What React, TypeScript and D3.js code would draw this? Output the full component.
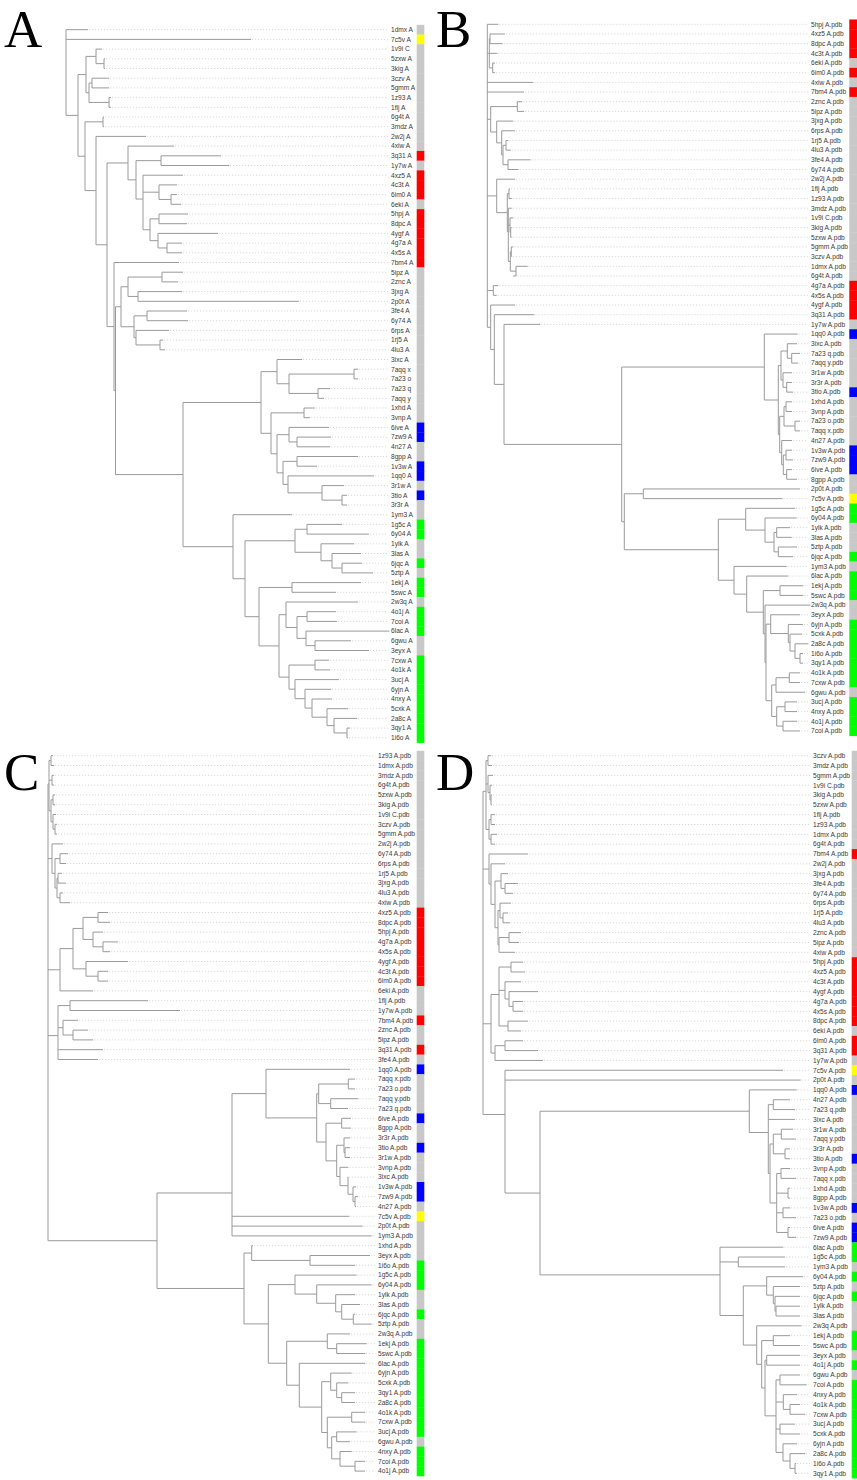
import { useEffect, useRef } from "react";
import * as d3 from "d3";

// colour groups of the strip beside the labels (by PDB id)
const redIds = ["3q31", "4xz5", "4c3t", "6im0", "5hpj", "8dpc", "4ygf", "4g7a", "4x5s", "7bm4"];
const blueIds = ["6ive", "7zw9", "1v3w", "1qq0", "3tio"];
const greenIds = ["1g5c", "6y04", "6jqc", "1ekj", "5swc", "4o1j", "7coi", "6lac", "7cxw", "4o1k",
  "3ucj", "6yjn", "4nxy", "5cxk", "2a8c", "3qy1", "1i6o"];
const yellowIds = ["7c5v"];

// trees as newick, the number after ":" is the distance of the node from the root
const A_N2 = "((1v9i C:36,(5zxw A:39,3kig A:39):38):30,((3czv A:43,5gmm A:43):26,(1z93 A:45,1flj A:45):43):23):20";
const A_RED = "(4xiw A:108,((3q31 A:155,1y7w A:163):95,(4xz5 A:117,(4c3t A:111,(6im0 A:111,6eki A:115):105):93,((5hpj A:122,8dpc A:121):93,(4ygf A:152,(4g7a A:116,4x5s A:116):101):92):84):77):70):62";
const A_GREY = "(((5ipz A:117,2znc A:112):96,(3jxg A:116,2p0t A:233):72):62,((3fe4 A:121,6y74 A:122):81,(6rps A:103,(1rj5 A:97,4lu3 A:99):94):70):68):55";
const A_BLUE = "((3ixc A:236,((7aqq x:292,7a23 o:292):288,(7a23 q:264,7aqq y:258):252):223):211,((1xhd A:249,3vnp A:244):238,((6ive A:263,(7zw9 A:265,4n27 A:264):231):223,((8gpp A:292,1v3w A:251):231,(1qq0 A:308,(3r1w A:278,(3tio A:281,3r3r A:281):276):256):222):217):211):205):195";
const A_GREEN = "(1ym3 A:226,(((1g5c A:276,6y04 A:303):241,(1ylk A:288,(3las A:295,(6jqc A:296,5ztp A:307):276):266):255):229,((1ekj A:295,5swc A:270):226,((2w3q A:292,((4o1j A:270,7coi A:271):241,(6lac A:323,(6gwu A:285,3eyx A:303):249):240):231):220,((7cxw A:263,4o1k A:264):249,(3ucj A:273,(6yjn A:265,(4nxy A:266,(5cxk A:282,(2a8c A:291,(3qy1 A:284,1i6o A:282):281):268):261):246):239):229):223):213):193):179):167";
const treeA = `(1dmx A:22,7c5v A:185,(${A_N2},((6g4t A:38,3mdz A:38):37,(2w2j A:80,(${A_RED},(7bm4 A:113,(${A_GREY},(${A_BLUE},${A_GREEN}):117):49.5):48):41):30):19):12)`;

const B_BLUE = "(1qq0 A:310.4,(((3ixc A:309.7,(7a23 q:312.7,7aqq y:310.7):304.4):300,(3r1w A:304.7,(3r3r A:304.7,3tio A:305.7):299.4):295.7):293.7,(((1xhd A:304.7,3vnp A:304.7):298.7,(7a23 o:312.7,7aqq x:312.7):307.7):296.7,(4n27 A:304.7,((1v3w A:304.7,7zw9 A:305.7):298.7,(6ive A:304.7,8gpp A:309.7):299.4):296):294.4):292.4):291):277";
const B_GREEN = "((1g5c A:307.7,(6y04 A:309.4,((1ylk A:302.7,3las A:304.4):289.4,(5ztp A:309.7,6jqc A:305.7):291):286.7):277.7):258.4,(1ym3 A:299.4,(6lac A:301,((1ekj A:316,5swc A:316):292.7,(2w3q A:322.7,((3eyx A:312.7,(6yjn A:315.7,(5cxk A:314.7,(2a8c A:320.7,(1i6o A:315.7,3qy1 A:315.7):312.7):307.7):302.7):301):283.4,(((4o1k A:312.7,7cxw A:312.7):302,6gwu A:317.7):288.7,((3ucj A:309.7,4nxy A:309.7):297.7,(4o1j A:309.7,7coi A:312.7):295.7):289.4):284.4):278.7):277.7):276):259.4):246.7):231";
const B_TOP = "5hpj A:11,((4xz5 A:17.7,8dpc A:15.4):2.7,4c3t A:10,(6eki A:7.7,6im0 A:7.7):5.4):2,4xiw A:46,7bm4 A:36.7,((2znc A:34.7,5ipz A:36.7):30,(3jxg A:26,(6rps A:27.7,((1rj5 A:21,4lu3 A:23.4):18.7,(3fe4 A:43.4,6y74 A:31.4):20.7):15.7):14.4):9.4):3.4,(2w2j A:27.7,((1flj A:22.7,1z93 A:24.4):21.7,(3mdz A:24.4,(1v9i C:26,(3kig A:24.4,5zxw A:24.4):23.4):22.7,((5gmm A:26,3czv A:24.4):24,(1dmx A:40.4,6g4t A:26):28.7):23):21):20):9.4,(4g7a A:11,4x5s A:9.4):6";
const treeB = `(${B_TOP},(4ygf A:27.7,(3q31 A:47,(1y7w A:52.7,(${B_BLUE},((2p0t A:312.7,7c5v A:295.2):156,${B_GREEN}):137):134.4):16.7):7):3.4)`;

const C_TOP = "((1z93 A:5,1dmx A:6):3,(3mdz A:6,6g4t A:6):4,((5zxw A:7,3kig A:7):5,(1v9i C:8,(3czv A:9,5gmm A:9):7):5):3):1,(2w2j A:15,((6y74 A:20,6rps A:18):12,((1rj5 A:14,3jxg A:18):10,(4lu3 A:15,4xiw A:22):12):9):7):4";
const C_RED = "((((4xz5 A:60,8dpc A:62):50,(5hpj A:55,(4g7a A:70,4x5s A:62):55):45):35,(4ygf A:80,(4c3t A:60,6im0 A:60):50):38):25,6eki A:45):12,((1flj A:100,1y7w A:132):22,(7bm4 A:30,(2znc A:40,5ipz A:45):25):15,3q31 A:55,3fe4 A:50):10";
const C_BLUE = "(1qq0 A:302,(((7aqq x:307,7a23 o:307):300.3,(7aqq y:310.3,7a23 q:300):282.7):270.7,((6ive A:303,8gpp A:303):293.7,((3r3r A:302,(3tio A:302,3r1w A:302):297):296,(3vnp A:300.3,(3ixc A:299.7,(1v3w A:308,(7zw9 A:310,4n27 A:308):307):305):300):292):288.7):278):268.7):218";
const C_GREEN = "((1g5c A:308.7,(6y04 A:323.7,(1ylk A:307,(3las A:312,(6jqc A:307,5ztp A:323.7):305.3):293.7):287.7):268.7):247,((2w3q A:302,(1ekj A:318.7,5swc A:317):288.7):279.3,(6lac A:317,((6yjn A:303.7,(5cxk A:300.3,(3qy1 A:307,2a8c A:307):293.7):288.7):282.7,((4o1k A:317,7cxw A:317):303.7,((3ucj A:308.7,6gwu A:302):288.7,(4nxy A:303.7,(7coi A:317,4o1j A:317):307):292):283.7):279.3):273.7):251.3):238.7):220.3";
const treeC = `(${C_TOP},${C_RED},((${C_BLUE},7c5v A:301.3,2p0t A:314.7,1ym3 A:323.7):184,((1xhd A:205,(3eyx A:322,1i6o A:307):262):203.7,${C_GREEN}):196):109)`;

const D_TOP = "((3czv A:8,3mdz A:9):5,(5gmm A:10,(1v9i C:9,(3kig A:9,5zxw A:9):8):7):5,((1flj A:12,1z93 A:12):8,(1dmx A:14,6g4t A:12):8):6):3,(7bm4 A:45,(2w2j A:22,((3jxg A:25,(3fe4 A:35,6y74 A:30):22):18,((6rps A:28,(1rj5 A:25,4lu3 A:27):20):17,((2znc A:38,5ipz A:36):26,4xiw A:32):16):15):12):8):6";
const D_RED = "(((5hpj A:40,4xz5 A:42):28,(4c3t A:38,(4ygf A:55,(4g7a A:40,4x5s A:40):30):26):22,(8dpc A:45,6eki A:38):25):16,((6im0 A:40,3q31 A:55):22,1y7w A:60):12):8";
const D_BLUE = "(1qq0 A:313.7,((4n27 A:307,7a23 q:312):290.3,3ixc A:312,(((3r1w A:310,7aqq y:313):298.3,(3r3r A:307,3tio A:307):302):290.3,((3vnp A:307,7aqq x:313):298,(1xhd A:307,8gpp A:307):305,(1v3w A:307,7a23 o:313):300,(6ive A:307,7zw9 A:313):305):293.7):287):285.3):266.3";
const D_GREEN = "(6lac A:300.3,(1g5c A:302,1ym3 A:302):255.3,((6y04 A:320,(5ztp A:317,(6jqc A:317,(1ylk A:317,3las A:317):293):292):290.3):283.7,(2w3q A:318.7,((1ekj A:307,5swc A:317):290.3,((3eyx A:317,4o1j A:317):283.7,((6gwu A:317,7coi A:323.7):297,(4nxy A:314,(4o1k A:317,7cxw A:322):307):300.3,(3ucj A:312,5cxk A:317):297,(6yjn A:314,(2a8c A:322,(1i6o A:313,3qy1 A:314):312):307):300):293):282):278.7):273.7):260.3):237";
const treeD = `(${D_TOP},${D_RED},(7c5v A:300,2p0t A:317.7,(${D_BLUE},${D_GREEN}):57):22)`;

const panels = [
  { letter: "A", tree: treeA, suffix: "", rootX: 66, top: 29.7, step: 9.7, labelX: 391, barX: 416.7, barW: 7.6, lx: 4, ly: 47 },
  { letter: "B", tree: treeB, suffix: ".pdb", rootX: 487.3, top: 24.3, step: 9.68, labelX: 811, barX: 849.3, barW: 8, lx: 436, ly: 47 },
  { letter: "C", tree: treeC, suffix: ".pdb", rootX: 48, top: 755.7, step: 9.8, labelX: 378, barX: 416.7, barW: 7.6, lx: 4, ly: 790 },
  { letter: "D", tree: treeD, suffix: ".pdb", rootX: 483, top: 755.7, step: 9.83, labelX: 813, barX: 851.7, barW: 6, lx: 436, ly: 790 },
];

type TNode = { name: string; depth: number; children: TNode[] };

function parseNewick(src: string): TNode {
  const s = src.replace(/\n\s*/g, "");
  let i = 0;
  const node = (): TNode => {
    const n: TNode = { name: "", depth: 0, children: [] };
    if (s[i] === "(") {
      i++;
      n.children.push(node());
      while (s[i] === ",") { i++; n.children.push(node()); }
      i++;
    }
    let name = "";
    while (i < s.length && !":,();".includes(s[i])) name += s[i++];
    n.name = name.trim();
    if (s[i] === ":") {
      i++;
      let v = "";
      while (i < s.length && !",();".includes(s[i])) v += s[i++];
      n.depth = +v;
    }
    return n;
  };
  return node();
}

const colorOf = (id: string) =>
  redIds.includes(id) ? "#ff0000" :
  blueIds.includes(id) ? "#0000ff" :
  greenIds.includes(id) ? "#00ff00" :
  yellowIds.includes(id) ? "#ffff00" : "#c8c8c8";

function drawPanel(svg: any, p: any) {
  const root = d3.hierarchy(parseNewick(p.tree), (d: TNode) => (d.children.length ? d.children : null));
  const leaves = root.leaves();
  const y = d3.scaleLinear().domain([0, leaves.length - 1]).range([p.top, p.top + p.step * (leaves.length - 1)]);
  const x = d3.scaleLinear().domain([0, 100]).range([p.rootX, p.rootX + 100]);

  const ys = new Map<any, number>();
  leaves.forEach((l: any, i: number) => ys.set(l, y(i)));
  root.eachAfter((n: any) => {
    if (n.children) ys.set(n, d3.mean(n.children, (c: any) => ys.get(c)) as number);
  });

  const g = svg.append("g");

  // dotted leaders from tips to labels
  g.append("g")
    .selectAll("line")
    .data(leaves)
    .join("line")
    .attr("x1", (d: any) => x(d.data.depth) + 1)
    .attr("x2", p.labelX - 3)
    .attr("y1", (d: any) => ys.get(d))
    .attr("y2", (d: any) => ys.get(d))
    .attr("stroke", "#cfcfcf")
    .attr("stroke-width", 0.8)
    .attr("stroke-dasharray", "1.2,1.8");

  // branches (elbow style)
  const path = d3.path();
  root.each((n: any) => {
    const nx = x(n.data.depth);
    const ny = ys.get(n) as number;
    if (n.parent) {
      path.moveTo(x(n.parent.data.depth), ny);
      path.lineTo(nx, ny);
    }
    if (n.children) {
      path.moveTo(nx, ys.get(n.children[0]) as number);
      path.lineTo(nx, ys.get(n.children[n.children.length - 1]) as number);
    }
  });
  g.append("path")
    .attr("d", path.toString())
    .attr("fill", "none")
    .attr("stroke", "#9a9a9a")
    .attr("stroke-width", 1);

  // labels
  g.append("g")
    .selectAll("text")
    .data(leaves)
    .join("text")
    .attr("x", p.labelX)
    .attr("y", (d: any) => ys.get(d))
    .attr("dy", "0.35em")
    .attr("font-family", "'Liberation Sans', Arial, sans-serif")
    .attr("font-size", 6.6)
    .attr("fill", "#3a3a3a")
    .text((d: any) => d.data.name + p.suffix);

  // colour strip
  g.append("g")
    .selectAll("rect")
    .data(leaves)
    .join("rect")
    .attr("x", p.barX)
    .attr("width", p.barW)
    .attr("y", (d: any) => (ys.get(d) as number) - p.step / 2)
    .attr("height", p.step + 0.3)
    .attr("fill", (d: any) => colorOf(d.data.name.slice(0, 4)));

  // panel letter
  svg.append("text")
    .attr("x", p.lx)
    .attr("y", p.ly)
    .attr("font-family", "'Liberation Serif', 'Times New Roman', serif")
    .attr("font-size", 53)
    .attr("fill", "#000")
    .text(p.letter);
}

export default function App() {
  const ref = useRef<SVGSVGElement>(null);

  useEffect(() => {
    const svg = d3.select(ref.current);
    svg.selectAll("*").remove();
    panels.forEach((p) => drawPanel(svg, p));
  }, []);

  return (
    <svg
      ref={ref}
      width={857}
      height={1480}
      style={{ position: "absolute", left: 0, top: 0, background: "#fff" }}
    />
  );
}
